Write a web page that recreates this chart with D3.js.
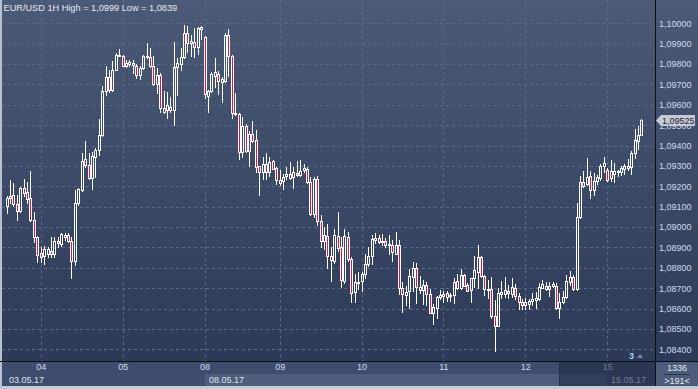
<!DOCTYPE html>
<html>
<head>
<meta charset="utf-8">
<title>EUR/USD 1H</title>
<style>
	html, body { margin:0; padding:0; background:#c3cbd7; }
	svg { display:block; }
</style>
</head>
<body>
<div id="chart"></div>
<script src="https://cdn.jsdelivr.net/npm/d3@7"></script>
<script>
	// hourly bars, 03.05.17 afternoon -> 15.05.17 morning
	var opens = [
		1.09105,1.09151,1.09157,1.09113,1.09080,1.09190,1.09172,1.09141,1.09034,1.08952,
		1.08875,1.08857,1.08870,1.08882,1.08870,1.08930,1.08916,1.08952,1.08961,1.08930,
		1.08834,1.09120,1.09182,1.09333,1.09305,1.09241,1.09343,1.09379,1.09451,1.09670,
		1.09736,1.09674,1.09772,1.09841,1.09841,1.09792,1.09802,1.09805,1.09792,1.09748,
		1.09780,1.09841,1.09834,1.09792,1.09703,1.09748,1.09584,1.09574,1.09587,1.09574,
		1.09784,1.09798,1.09833,1.09951,1.09902,1.09907,1.09885,1.09972,1.09931,1.09644,
		1.09667,1.09743,1.09749,1.09713,1.09716,1.09943,1.09839,1.09562,1.09557,1.09369,
		1.09497,1.09372,1.09459,1.09426,1.09300,1.09270,1.09308,1.09270,1.09325,1.09290,
		1.09233,1.09225,1.09251,1.09259,1.09246,1.09266,1.09257,1.09279,1.09287,1.09221,
		1.09066,1.09238,1.09030,1.08930,1.08957,1.08859,1.08834,1.08957,1.08903,1.08736,
		1.08952,1.08843,1.08679,1.08723,1.08733,1.08769,1.08818,1.08856,1.08936,1.08946,
		1.08925,1.08933,1.08910,1.08911,1.08870,1.08911,1.08700,1.08667,1.08684,1.08756,
		1.08797,1.08708,1.08690,1.08716,1.08670,1.08580,1.08605,1.08657,1.08662,1.08674,
		1.08662,1.08666,1.08733,1.08703,1.08764,1.08716,1.08692,1.08749,1.08780,1.08854,
		1.08761,1.08692,1.08698,1.08565,1.08515,1.08680,1.08672,1.08684,1.08672,1.08700,
		1.08662,1.08634,1.08631,1.08621,1.08638,1.08643,1.08648,1.08703,1.08713,1.08695,
		1.08711,1.08711,1.08602,1.08630,1.08656,1.08728,1.08757,1.08695,1.09049,1.09220,
		1.09213,1.09249,1.09180,1.09225,1.09241,1.09298,1.09279,1.09274,1.09262,1.09269,
		1.09269,1.09285,1.09302,1.09295,1.09361,1.09421,1.09454
	];
	var highs = [
		1.09152,1.09231,1.09215,1.09157,1.09198,1.09234,1.09223,1.09275,1.09075,1.08955,
		1.08903,1.08907,1.08903,1.08949,1.08949,1.08952,1.08972,1.08969,1.08969,1.08952,
		1.09182,1.09190,1.09362,1.09420,1.09362,1.09366,1.09387,1.09530,1.09690,1.09789,
		1.09769,1.09813,1.09854,1.09874,1.09846,1.09818,1.09821,1.09818,1.09802,1.09789,
		1.09846,1.09903,1.09879,1.09841,1.09780,1.09756,1.09666,1.09661,1.09639,1.09910,
		1.09828,1.09877,1.09990,1.09985,1.09943,1.09975,1.09984,1.09988,1.09939,1.09672,
		1.09762,1.09828,1.09766,1.09738,1.09951,1.09972,1.09844,1.09656,1.09562,1.09541,
		1.09508,1.09470,1.09520,1.09475,1.09302,1.09344,1.09361,1.09344,1.09328,1.09295,
		1.09279,1.09262,1.09295,1.09320,1.09295,1.09323,1.09328,1.09307,1.09295,1.09246,
		1.09246,1.09250,1.09060,1.09000,1.09015,1.08900,1.08990,1.09072,1.08949,1.08990,
		1.08974,1.08851,1.08772,1.08777,1.08777,1.08870,1.08900,1.08962,1.08970,1.08962,
		1.08966,1.08946,1.08962,1.08938,1.08977,1.08936,1.08728,1.08711,1.08793,1.08830,
		1.08823,1.08761,1.08739,1.08728,1.08695,1.08621,1.08662,1.08690,1.08687,1.08684,
		1.08674,1.08749,1.08769,1.08793,1.08769,1.08723,1.08752,1.08856,1.08913,1.08859,
		1.08764,1.08739,1.08757,1.08643,1.08700,1.08733,1.08757,1.08716,1.08749,1.08721,
		1.08675,1.08646,1.08651,1.08646,1.08675,1.08680,1.08725,1.08741,1.08728,1.08728,
		1.08730,1.08725,1.08675,1.08684,1.08766,1.08785,1.08766,1.09118,1.09249,1.09274,
		1.09339,1.09274,1.09266,1.09257,1.09307,1.09344,1.09290,1.09331,1.09315,1.09279,
		1.09298,1.09311,1.09334,1.09372,1.09479,1.09495,1.09528
	];
	var lows = [
		1.09067,1.09116,1.09103,1.09034,1.09075,1.09152,1.09116,1.09030,1.08928,1.08830,
		1.08830,1.08818,1.08854,1.08854,1.08851,1.08900,1.08907,1.08936,1.08928,1.08748,
		1.08813,1.09108,1.09179,1.09297,1.09234,1.09185,1.09248,1.09354,1.09448,1.09649,
		1.09661,1.09670,1.09769,1.09838,1.09789,1.09785,1.09792,1.09756,1.09731,1.09726,
		1.09777,1.09830,1.09785,1.09698,1.09657,1.09567,1.09559,1.09533,1.09566,1.09500,
		1.09648,1.09770,1.09828,1.09861,1.09841,1.09836,1.09848,1.09923,1.09634,1.09566,
		1.09664,1.09689,1.09651,1.09615,1.09713,1.09743,1.09533,1.09549,1.09333,1.09344,
		1.09366,1.09300,1.09418,1.09270,1.09156,1.09238,1.09238,1.09251,1.09284,1.09213,
		1.09208,1.09185,1.09238,1.09238,1.09192,1.09251,1.09251,1.09270,1.09218,1.09057,
		1.09050,1.09010,1.08900,1.08890,1.08797,1.08733,1.08826,1.08884,1.08708,1.08723,
		1.08831,1.08630,1.08634,1.08695,1.08684,1.08752,1.08810,1.08818,1.08920,1.08920,
		1.08913,1.08903,1.08867,1.08831,1.08867,1.08670,1.08585,1.08618,1.08602,1.08687,
		1.08625,1.08674,1.08621,1.08618,1.08577,1.08526,1.08556,1.08646,1.08630,1.08638,
		1.08638,1.08625,1.08695,1.08698,1.08710,1.08684,1.08634,1.08707,1.08703,1.08757,
		1.08666,1.08654,1.08556,1.08390,1.08512,1.08651,1.08659,1.08651,1.08659,1.08646,
		1.08597,1.08597,1.08597,1.08597,1.08618,1.08602,1.08643,1.08700,1.08689,1.08662,
		1.08705,1.08597,1.08556,1.08626,1.08651,1.08716,1.08692,1.08692,1.09044,1.09197,
		1.09208,1.09143,1.09159,1.09213,1.09233,1.09269,1.09225,1.09225,1.09220,1.09249,
		1.09257,1.09262,1.09282,1.09262,1.09339,1.09384,1.09451
	];
	var closes = [
		1.09141,1.09141,1.09113,1.09080,1.09190,1.09169,1.09136,1.09034,1.08952,1.08862,
		1.08851,1.08890,1.08890,1.08867,1.08930,1.08920,1.08964,1.08961,1.08933,1.08831,
		1.09120,1.09185,1.09326,1.09305,1.09241,1.09349,1.09379,1.09451,1.09670,1.09736,
		1.09674,1.09772,1.09846,1.09846,1.09792,1.09805,1.09811,1.09795,1.09748,1.09780,
		1.09841,1.09834,1.09792,1.09703,1.09748,1.09584,1.09567,1.09598,1.09574,1.09784,
		1.09803,1.09833,1.09951,1.09902,1.09913,1.09885,1.09975,1.09984,1.09651,1.09667,
		1.09749,1.09759,1.09716,1.09726,1.09943,1.09839,1.09562,1.09554,1.09369,1.09497,
		1.09372,1.09459,1.09421,1.09295,1.09270,1.09308,1.09270,1.09320,1.09287,1.09233,
		1.09216,1.09246,1.09259,1.09243,1.09270,1.09254,1.09274,1.09290,1.09221,1.09066,
		1.09238,1.09030,1.08930,1.08960,1.08859,1.08838,1.08961,1.08895,1.08739,1.08957,
		1.08843,1.08675,1.08731,1.08728,1.08769,1.08818,1.08856,1.08941,1.08944,1.08925,
		1.08933,1.08911,1.08916,1.08879,1.08911,1.08700,1.08670,1.08679,1.08761,1.08798,
		1.08708,1.08690,1.08716,1.08670,1.08580,1.08610,1.08657,1.08667,1.08670,1.08657,
		1.08667,1.08730,1.08703,1.08764,1.08711,1.08687,1.08749,1.08789,1.08854,1.08761,
		1.08695,1.08698,1.08565,1.08515,1.08675,1.08672,1.08689,1.08675,1.08705,1.08662,
		1.08634,1.08618,1.08618,1.08639,1.08646,1.08651,1.08705,1.08721,1.08695,1.08711,
		1.08720,1.08602,1.08634,1.08659,1.08733,1.08757,1.08695,1.09049,1.09220,1.09203,
		1.09246,1.09184,1.09225,1.09246,1.09298,1.09315,1.09233,1.09241,1.09274,1.09274,
		1.09290,1.09298,1.09290,1.09364,1.09425,1.09454,1.09525
	];

	// first bar of each day / week
	var dayLabels = ["04","05","08","09","10","11","12","15"];
	var dayStarts = [10, 34, 58, 80, 104, 128, 152, 176];
	var weekLabels = ["03.05.17","08.05.17","15.05.17"];
	var weekStarts = [0, 58, 176];

	var priceTicks = [1.084,1.085,1.086,1.087,1.088,1.089,1.090,1.091,1.092,
		1.093,1.094,1.095,1.096,1.097,1.098,1.099,1.100];

	var titleText = "EUR/USD 1H High = 1,0999 Low = 1,0839";
	var barsTotal = "1336";
	var barsShown = ">191<";
	var markerText = "3";

	var width = 698, height = 389;
	var plotRight = 655, plotBottom = 361, axisBottom = 386;
	var fontFamily = "'Liberation Sans', Arial, sans-serif";

	var svg = d3.select("#chart").append("svg")
		.attr("width", width)
		.attr("height", height);

	var defs = svg.append("defs");
	var grad = defs.append("linearGradient").attr("id", "bg")
		.attr("x1", 0).attr("y1", 0).attr("x2", 0).attr("y2", 1);
	grad.append("stop").attr("offset", "0%").attr("stop-color", "#4a5a77");
	grad.append("stop").attr("offset", "100%").attr("stop-color", "#2c3a57");

	defs.append("clipPath").attr("id", "plotClip")
		.append("rect").attr("x", 2).attr("y", 0)
		.attr("width", plotRight - 2).attr("height", plotBottom);

	// backgrounds
	svg.append("rect").attr("x", 0).attr("y", 0)
		.attr("width", width).attr("height", plotBottom)
		.attr("fill", "url(#bg)");
	svg.append("rect").attr("x", 0).attr("y", plotBottom)
		.attr("width", width).attr("height", axisBottom - plotBottom)
		.attr("fill", "#3e4d6b");

	var n = opens.length;
	var x = d3.scaleLinear().domain([0, n - 1]).range([6.6, 641.4]);
	var y = d3.scaleLinear().domain([1.084, 1.100]).range([349.3, 23.3]);

	function fmtPrice(v) {
		return d3.format(".5f")(v).replace(".", ",");
	}

	// grid
	var grid = svg.append("g").attr("stroke", "#5a6a88").attr("stroke-dasharray", "3,3");
	grid.selectAll("line.h").data(priceTicks).enter().append("line")
		.attr("class", "h")
		.attr("x1", 2).attr("x2", plotRight)
		.attr("y1", function(d) { return Math.round(y(d)) + 0.5; })
		.attr("y2", function(d) { return Math.round(y(d)) + 0.5; });
	grid.selectAll("line.v").data(dayStarts).enter().append("line")
		.attr("class", "v")
		.attr("y1", 0).attr("y2", plotBottom)
		.attr("x1", function(d) { return Math.round(x(d)) + 0.5; })
		.attr("x2", function(d) { return Math.round(x(d)) + 0.5; });

	// candles
	var bars = d3.range(n).map(function(i) {
		return { i: i, o: opens[i], h: highs[i], l: lows[i], c: closes[i] };
	});

	var plot = svg.append("g").attr("clip-path", "url(#plotClip)");
	var candle = plot.selectAll("g.candle").data(bars).enter().append("g").attr("class", "candle");

	candle.append("path")
		.attr("stroke", "#ffffff")
		.attr("fill", "none")
		.attr("d", function(d) {
			var cx = Math.round(x(d.i)) + 0.5;
			var top = Math.round(y(Math.max(d.o, d.c)));
			var bot = Math.round(y(Math.min(d.o, d.c)));
			return "M" + cx + "," + Math.round(y(d.h)) + "V" + top +
				"M" + cx + "," + (bot + 1) + "V" + (Math.round(y(d.l)) + 1);
		});

	candle.append("rect")
		.attr("x", function(d) { return Math.round(x(d.i)) - 0.5; })
		.attr("width", 2)
		.attr("y", function(d) { return Math.round(y(Math.max(d.o, d.c))) + 0.5; })
		.attr("height", function(d) {
			var top = Math.round(y(Math.max(d.o, d.c)));
			var bot = Math.round(y(Math.min(d.o, d.c)));
			return Math.max(bot - top, 1);
		})
		.attr("stroke", "#ffffff")
		.attr("fill", function(d) { return d.c < d.o ? "#e3123f" : "none"; });

	// week bands in the lower row of the time axis
	var weekEnds = weekStarts.slice(1).concat([n + 10]);
	svg.selectAll("rect.week").data(weekStarts).enter().append("rect")
		.attr("class", "week")
		.attr("x", function(d) { return Math.round(x(d)); })
		.attr("y", 374)
		.attr("width", function(d, i) { return Math.min(plotRight, Math.round(x(weekEnds[i]))) - Math.round(x(d)); })
		.attr("height", axisBottom - 374)
		.attr("fill", function(d, i) { return i % 2 ? "#4d5d7b" : "#3e4d6b"; });

	// time axis
	var xAxis = d3.axisBottom(x)
		.tickValues(dayStarts)
		.tickSize(0)
		.tickPadding(0)
		.tickFormat(function(d, i) { return dayLabels[i]; });
	var xg = svg.append("g").attr("transform", "translate(0,364)").call(xAxis);
	xg.select(".domain").remove();
	xg.selectAll("text").attr("fill", "#cfdcf0").style("font-family", fontFamily).style("font-size", "9px");

	svg.selectAll("text.week").data(weekStarts).enter().append("text")
		.attr("class", "week")
		.attr("x", function(d, i) { return i == 0 ? 9 : Math.round(x(d)) + 4; })
		.attr("y", 383)
		.attr("fill", "#dfe6f0")
		.style("font-family", fontFamily).style("font-size", "9px")
		.text(function(d, i) { return weekLabels[i]; });

	// dark preview box over the right end of the time axis
	svg.append("rect").attr("x", 559).attr("y", plotBottom + 1)
		.attr("width", plotRight - 559).attr("height", axisBottom - plotBottom - 1)
		.attr("fill", "#1c2740").attr("opacity", 0.55);
	svg.append("line").attr("x1", 559.5).attr("x2", 559.5)
		.attr("y1", plotBottom + 1).attr("y2", axisBottom)
		.attr("stroke", "#25304a");

	// price axis
	var yAxis = d3.axisRight(y)
		.tickValues(priceTicks)
		.tickSize(0)
		.tickPadding(0)
		.tickFormat(fmtPrice);
	var yg = svg.append("g").attr("transform", "translate(659,0)").call(yAxis);
	yg.select(".domain").remove();
	yg.selectAll("text").attr("fill", "#cfdcf0").style("font-family", fontFamily).style("font-size", "9px");

	// last price tag
	var last = closes[n - 1];
	var ly = Math.round(y(last)) + 0.5;
	svg.append("path")
		.attr("d", "M656," + ly + "L661," + (ly - 5.5) + "H695V" + (ly + 5.5) + "H661Z")
		.attr("fill", "#c5cad3");
	svg.append("text").attr("x", 662).attr("y", ly + 3.5)
		.attr("fill", "#1b2436")
		.style("font-family", fontFamily).style("font-size", "9px")
		.text(fmtPrice(last));

	// frame lines
	svg.append("rect").attr("x", 0).attr("y", 0).attr("width", 2).attr("height", height).attr("fill", "#b7c1cf");
	svg.append("line").attr("x1", 0).attr("x2", width).attr("y1", plotBottom + 0.5).attr("y2", plotBottom + 0.5).attr("stroke", "#0b0f18");
	svg.append("line").attr("x1", plotRight + 0.5).attr("x2", plotRight + 0.5).attr("y1", 0).attr("y2", axisBottom).attr("stroke", "#0b0f18");

	// bars counter box
	svg.append("rect").attr("x", plotRight + 1).attr("y", plotBottom + 1)
		.attr("width", width - plotRight - 1).attr("height", axisBottom - plotBottom - 1)
		.attr("fill", "#4c5c7a");
	svg.append("text").attr("x", 677).attr("y", 370.5).attr("text-anchor", "middle")
		.attr("fill", "#e6ebf2").style("font-family", fontFamily).style("font-size", "9px")
		.text(barsTotal);
	svg.append("line").attr("x1", 664).attr("x2", 690).attr("y1", 374.5).attr("y2", 374.5).attr("stroke", "#28334d");
	svg.append("text").attr("x", 677).attr("y", 384).attr("text-anchor", "middle")
		.attr("fill", "#e6ebf2").style("font-family", fontFamily).style("font-size", "9px")
		.text(barsShown);

	// small marker at the bottom right of the plot
	svg.append("text").attr("x", 629).attr("y", 358.5)
		.attr("fill", "#9fd0ff").style("font-family", fontFamily).style("font-size", "9px").style("font-weight", "bold")
		.text(markerText);
	svg.append("path").attr("d", "M637,358L640,354L643,358Z").attr("fill", "#7c899f");

	// title
	svg.append("text").attr("x", 3.5).attr("y", 10.5)
		.attr("fill", "#e6ebf2")
		.style("font-family", fontFamily).style("font-size", "9.2px")
		.text(titleText);
</script>
</body>
</html>
